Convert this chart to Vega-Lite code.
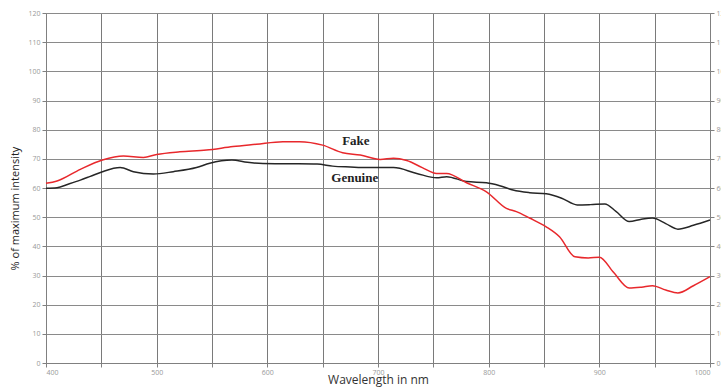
{
  "$schema": "https://vega.github.io/schema/vega-lite/v6.json",
  "width": 664,
  "height": 350,
  "autosize": {"type": "none"},
  "padding": {"left": 46, "top": 13, "right": 11, "bottom": 24},
  "background": "white",
  "config": {
    "view": {"stroke": null},
    "axis": {"labelFont": "Open Sans", "titleFont": "Open Sans"}
  },
  "datasets": {
    "curves": [
      {"wavelength": 400, "intensity": 59.9, "series": "Genuine"},
      {"wavelength": 410, "intensity": 60.1, "series": "Genuine"},
      {"wavelength": 420, "intensity": 61.3, "series": "Genuine"},
      {"wavelength": 431, "intensity": 62.7, "series": "Genuine"},
      {"wavelength": 440, "intensity": 64.0, "series": "Genuine"},
      {"wavelength": 451, "intensity": 65.6, "series": "Genuine"},
      {"wavelength": 467, "intensity": 67.0, "series": "Genuine"},
      {"wavelength": 479, "intensity": 65.6, "series": "Genuine"},
      {"wavelength": 497, "intensity": 64.8, "series": "Genuine"},
      {"wavelength": 515, "intensity": 65.6, "series": "Genuine"},
      {"wavelength": 536, "intensity": 67.0, "series": "Genuine"},
      {"wavelength": 548, "intensity": 68.5, "series": "Genuine"},
      {"wavelength": 568, "intensity": 69.6, "series": "Genuine"},
      {"wavelength": 582, "intensity": 68.8, "series": "Genuine"},
      {"wavelength": 596, "intensity": 68.4, "series": "Genuine"},
      {"wavelength": 620, "intensity": 68.3, "series": "Genuine"},
      {"wavelength": 645, "intensity": 68.2, "series": "Genuine"},
      {"wavelength": 659, "intensity": 67.5, "series": "Genuine"},
      {"wavelength": 675, "intensity": 67.2, "series": "Genuine"},
      {"wavelength": 690, "intensity": 67.0, "series": "Genuine"},
      {"wavelength": 714, "intensity": 67.0, "series": "Genuine"},
      {"wavelength": 735, "intensity": 65.0, "series": "Genuine"},
      {"wavelength": 753, "intensity": 63.5, "series": "Genuine"},
      {"wavelength": 762, "intensity": 63.9, "series": "Genuine"},
      {"wavelength": 780, "intensity": 62.2, "series": "Genuine"},
      {"wavelength": 798, "intensity": 61.8, "series": "Genuine"},
      {"wavelength": 810, "intensity": 60.8, "series": "Genuine"},
      {"wavelength": 822, "intensity": 59.3, "series": "Genuine"},
      {"wavelength": 837, "intensity": 58.4, "series": "Genuine"},
      {"wavelength": 852, "intensity": 58.0, "series": "Genuine"},
      {"wavelength": 866, "intensity": 56.5, "series": "Genuine"},
      {"wavelength": 880, "intensity": 54.2, "series": "Genuine"},
      {"wavelength": 892, "intensity": 54.3, "series": "Genuine"},
      {"wavelength": 905, "intensity": 54.5, "series": "Genuine"},
      {"wavelength": 915, "intensity": 52.0, "series": "Genuine"},
      {"wavelength": 927, "intensity": 48.5, "series": "Genuine"},
      {"wavelength": 938, "intensity": 49.3, "series": "Genuine"},
      {"wavelength": 948, "intensity": 49.7, "series": "Genuine"},
      {"wavelength": 960, "intensity": 47.8, "series": "Genuine"},
      {"wavelength": 971, "intensity": 45.9, "series": "Genuine"},
      {"wavelength": 985, "intensity": 47.2, "series": "Genuine"},
      {"wavelength": 1000, "intensity": 49.0, "series": "Genuine"},
      {"wavelength": 400, "intensity": 61.6, "series": "Fake"},
      {"wavelength": 410, "intensity": 62.4, "series": "Fake"},
      {"wavelength": 431, "intensity": 66.4, "series": "Fake"},
      {"wavelength": 451, "intensity": 69.6, "series": "Fake"},
      {"wavelength": 470, "intensity": 71.0, "series": "Fake"},
      {"wavelength": 488, "intensity": 70.5, "series": "Fake"},
      {"wavelength": 500, "intensity": 71.5, "series": "Fake"},
      {"wavelength": 521, "intensity": 72.4, "series": "Fake"},
      {"wavelength": 545, "intensity": 73.0, "series": "Fake"},
      {"wavelength": 569, "intensity": 74.2, "series": "Fake"},
      {"wavelength": 590, "intensity": 75.0, "series": "Fake"},
      {"wavelength": 614, "intensity": 75.9, "series": "Fake"},
      {"wavelength": 629, "intensity": 75.9, "series": "Fake"},
      {"wavelength": 650, "intensity": 74.7, "series": "Fake"},
      {"wavelength": 668, "intensity": 72.1, "series": "Fake"},
      {"wavelength": 684, "intensity": 71.3, "series": "Fake"},
      {"wavelength": 702, "intensity": 69.8, "series": "Fake"},
      {"wavelength": 714, "intensity": 70.2, "series": "Fake"},
      {"wavelength": 726, "intensity": 69.4, "series": "Fake"},
      {"wavelength": 740, "intensity": 67.0, "series": "Fake"},
      {"wavelength": 753, "intensity": 65.0, "series": "Fake"},
      {"wavelength": 762, "intensity": 65.0, "series": "Fake"},
      {"wavelength": 780, "intensity": 61.8, "series": "Fake"},
      {"wavelength": 798, "intensity": 58.7, "series": "Fake"},
      {"wavelength": 816, "intensity": 53.0, "series": "Fake"},
      {"wavelength": 825, "intensity": 51.9, "series": "Fake"},
      {"wavelength": 837, "intensity": 49.7, "series": "Fake"},
      {"wavelength": 852, "intensity": 46.7, "series": "Fake"},
      {"wavelength": 864, "intensity": 43.3, "series": "Fake"},
      {"wavelength": 878, "intensity": 36.4, "series": "Fake"},
      {"wavelength": 890, "intensity": 36.0, "series": "Fake"},
      {"wavelength": 900, "intensity": 36.3, "series": "Fake"},
      {"wavelength": 913, "intensity": 31.0, "series": "Fake"},
      {"wavelength": 927, "intensity": 25.7, "series": "Fake"},
      {"wavelength": 938, "intensity": 26.0, "series": "Fake"},
      {"wavelength": 948, "intensity": 26.5, "series": "Fake"},
      {"wavelength": 960, "intensity": 25.0, "series": "Fake"},
      {"wavelength": 971, "intensity": 24.0, "series": "Fake"},
      {"wavelength": 985, "intensity": 26.5, "series": "Fake"},
      {"wavelength": 1000, "intensity": 29.6, "series": "Fake"}
    ],
    "labels": [
      {"wavelength": 680, "intensity": 76, "label": "Fake"},
      {"wavelength": 679, "intensity": 63.5, "label": "Genuine"}
    ]
  },
  "layer": [
    {
      "data": {"name": "curves"},
      "mark": {"type": "line", "interpolate": "monotone", "strokeWidth": 1.5},
      "encoding": {
        "x": {
          "field": "wavelength", "type": "quantitative",
          "scale": {"domain": [400, 1000], "nice": false, "zero": false},
          "axis": {
            "values": [400, 450, 500, 550, 600, 650, 700, 750, 800, 850, 900, 950, 1000],
            "format": "d",
            "labelExpr": "datum.value % 100 == 0 ? datum.label : ''",
            "labelFontSize": 7, "labelColor": "#999999", "labelPadding": 1,
            "tickSize": 4, "tickColor": "#808080",
            "grid": true, "gridColor": "#7a7a7a", "gridWidth": 1, "gridOpacity": 1,
            "domainColor": "#808080",
            "title": "Wavelength in nm", "titleFontSize": 12, "titleFontWeight": "normal",
            "titleColor": "#333333", "titlePadding": -1
          }
        },
        "y": {
          "field": "intensity", "type": "quantitative",
          "scale": {"domain": [0, 120], "nice": false},
          "axis": {
            "orient": "left",
            "values": [0, 10, 20, 30, 40, 50, 60, 70, 80, 90, 100, 110, 120],
            "labelFontSize": 7, "labelColor": "#999999", "labelPadding": 2,
            "tickSize": 4, "tickColor": "#808080",
            "grid": true, "gridColor": "#8a8a8a", "gridWidth": 1, "gridOpacity": 1,
            "domainColor": "#808080",
            "title": "% of maximum intensity", "titleFontSize": 11, "titleFontWeight": "normal",
            "titleColor": "#222222", "titleX": -26, "titleY": 195
          }
        },
        "color": {
          "field": "series", "type": "nominal",
          "scale": {"domain": ["Genuine", "Fake"], "range": ["#262626", "#e8282c"]},
          "legend": null
        }
      }
    },
    {
      "data": {"name": "labels"},
      "mark": {"type": "text", "font": "Liberation Serif", "fontWeight": "bold", "fontSize": 13, "color": "#222222"},
      "encoding": {
        "x": {"field": "wavelength", "type": "quantitative"},
        "y": {
          "field": "intensity", "type": "quantitative",
          "axis": {
            "orient": "right",
            "values": [0, 10, 20, 30, 40, 50, 60, 70, 80, 90, 100, 110, 120],
            "labelFontSize": 7, "labelColor": "#999999", "labelPadding": 2,
            "tickSize": 4, "tickColor": "#808080",
            "grid": false, "domainColor": "#808080", "title": null
          }
        },
        "text": {"field": "label"}
      }
    }
  ],
  "resolve": {"axis": {"y": "independent"}}
}
